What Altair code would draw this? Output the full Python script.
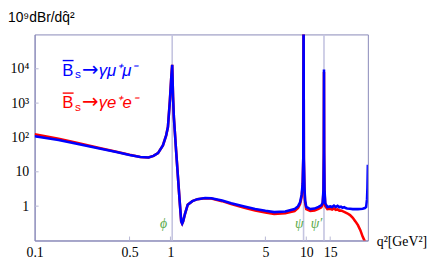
import altair as alt
import pandas as pd

# ---- data ----
mu_q2 = [0.1, 0.15, 0.2, 0.3, 0.4, 0.5, 0.6, 0.69, 0.75, 0.81, 0.88, 0.93, 0.958, 0.99, 1.013, 1.03,
         1.045, 1.06, 1.1, 1.166, 1.2, 1.22, 1.24, 1.28, 1.34, 1.45, 1.58, 1.8, 2.0, 2.4, 2.8, 3.5, 4.2,
         5.0, 5.8, 7.0, 8.2, 8.7, 9.0, 9.25, 9.4, 9.5, 9.55, 9.6, 9.7, 9.8, 10.0, 10.7, 11.5, 12.3,
         12.9, 13.2, 13.38, 13.46, 13.5, 13.54, 13.62, 13.8, 14.3, 15.0, 15.5, 16.0, 16.5, 17.0, 17.5,
         18.0, 18.5, 19.0, 19.5, 20.0, 21.0, 22.0, 23.0, 24.0, 25.0, 26.0, 27.0, 27.6, 28.0, 28.2, 28.4]
mu_val = [108, 85, 67, 48, 38, 31, 27, 26, 29, 35, 59, 115, 200, 1140, 5300, 13000,
          1500, 380, 42, 1.6, 0.36, 0.31, 0.36, 0.6, 1.1, 1.4, 1.6, 1.72, 1.7, 1.45, 1.22, 0.98, 0.83,
          0.73, 0.67, 0.7, 0.82, 1.0, 1.3, 2.2, 4.5, 25, 1000000, 25, 3.5, 1.5, 0.95, 0.82, 0.85, 0.95,
          1.05, 1.25, 3, 40, 9500, 40, 3, 1.2, 0.94, 0.98, 0.94, 1.04, 0.95, 1.02, 0.93,
          0.97, 0.9, 0.94, 0.88, 0.86, 0.84, 0.82, 0.82, 0.82, 0.83, 0.84, 0.88, 0.95, 1.6, 3.5, 16]

e_q2 = [0.1, 0.15, 0.2, 0.3, 0.4, 0.5, 0.6, 0.69, 0.75, 0.81, 0.88, 0.93, 0.958, 0.99, 1.013, 1.03,
        1.045, 1.06, 1.1, 1.166, 1.2, 1.22, 1.24, 1.28, 1.34, 1.45, 1.58, 1.8, 2.0, 2.4, 2.8, 3.5, 4.2,
        5.0, 5.8, 7.0, 8.2, 8.7, 9.0, 9.25, 9.4, 9.5, 9.55, 9.6, 9.7, 9.8, 10.0, 10.7, 11.5, 12.3,
        12.9, 13.2, 13.38, 13.46, 13.5, 13.54, 13.62, 13.8, 14.3, 15.0, 15.5, 16.0, 16.5, 17.0, 17.5,
        18.0, 19.0, 20.0, 21.0, 22.0, 23.0, 24.0, 25.0, 26.0, 26.8, 27.3, 27.7]
e_val = [125, 92, 71, 49, 38.5, 31.3, 27, 26, 29, 35, 59, 115, 200, 1140, 5300, 13000,
         1500, 380, 42, 1.6, 0.36, 0.31, 0.36, 0.6, 1.1, 1.4, 1.6, 1.7, 1.67, 1.4, 1.15, 0.9, 0.75,
         0.65, 0.59, 0.62, 0.72, 0.88, 1.15, 1.9, 4.0, 22, 1000000, 22, 3.0, 1.3, 0.82, 0.72, 0.75, 0.84,
         0.93, 1.1, 2.6, 35, 8000, 35, 2.6, 1.0, 0.82, 0.84, 0.8, 0.86, 0.78, 0.8, 0.74,
         0.75, 0.68, 0.62, 0.55, 0.46, 0.36, 0.28, 0.2, 0.13, 0.1, 0.07, 0.05]

res_q2 = [1.03, 9.55, 13.5]
res_lbl = ["ϕ", "ψ", "ψ′"]
res_lbl_q2 = [0.89, 8.87, 11.9]

x_ticks = [0.1, 0.5, 1, 5, 10, 15]
y_ticks = [1, 10, 100, 1000, 10000]

W, H = 338, 209
XDOM = [0.1, 28.4]
YDOM = [0.1, 100000]
FRAME = "#8888b8"

df = pd.concat([
    pd.DataFrame({"q2": e_q2, "v": e_val, "s": "ee"}),
    pd.DataFrame({"q2": mu_q2, "v": mu_val, "s": "mumu"}),
])

xs = alt.Scale(type="log", domain=XDOM, nice=False)
ys = alt.Scale(type="log", domain=YDOM, nice=False)

xax = alt.Axis(values=x_ticks, format="~g", ticks=False, grid=False, labelFlush=False,
               labelOverlap=False, labelFont="Liberation Serif", labelFontSize=14,
               labelColor="black", labelPadding=5, domainColor=FRAME, title=None)
yax = alt.Axis(values=y_ticks, ticks=False, grid=False, labelFlush=False, labelOverlap=False,
               labelExpr="datum.value == 1 ? '1' : datum.value == 10 ? '10' : datum.value == 100 ? '10²' : datum.value == 1000 ? '10³' : '10⁴'",
               labelFont="Liberation Serif", labelFontSize=14, labelColor="black",
               labelPadding=6, domainColor=FRAME, title=None)

vlines = alt.Chart(pd.DataFrame({"q2": res_q2})).mark_rule(
    color="#c4c4e0", strokeWidth=1.6).encode(x=alt.X("q2:Q", scale=xs, axis=xax))

xt = alt.Chart(pd.DataFrame({"q2": x_ticks[1:]})).mark_rule(color="#b8b8d4", strokeWidth=1).encode(
    x=alt.X("q2:Q", scale=xs), y=alt.value(H), y2=alt.value(H - 4))
yt = alt.Chart(pd.DataFrame({"v": y_ticks})).mark_rule(color="#b8b8d4", strokeWidth=1).encode(
    y=alt.Y("v:Q", scale=ys, axis=yax), x=alt.value(0), x2=alt.value(4))

red = alt.Chart(df[df.s == "ee"]).mark_line(color="#ff0000", strokeWidth=2.6, clip=True).encode(
    x=alt.X("q2:Q", scale=xs), y=alt.Y("v:Q", scale=ys), order="q2:Q")
blue = alt.Chart(df[df.s == "mumu"]).mark_line(color="#0000ff", strokeWidth=2.6, clip=True).encode(
    x=alt.X("q2:Q", scale=xs), y=alt.Y("v:Q", scale=ys), order="q2:Q")

lbls = alt.Chart(pd.DataFrame({"q2": res_lbl_q2, "t": res_lbl})).mark_text(
    font="Liberation Serif", fontStyle="italic", fontSize=14, color="#5aaa4a",
    baseline="middle").encode(x=alt.X("q2:Q", scale=xs), y=alt.value(192.5), text="t:N")


def legend(color, tail, base):
    B = alt.Chart(pd.DataFrame({"t": ["B"]})).mark_text(
        font="Liberation Sans", fontSize=17, color=color, align="left", baseline="alphabetic"
    ).encode(x=alt.value(28), y=alt.value(base), text="t:N")
    bar = alt.Chart(pd.DataFrame({"a": [0]})).mark_rule(color=color, strokeWidth=1.4).encode(
        x=alt.value(28.5), x2=alt.value(39.5), y=alt.value(base - 15.5))
    s = alt.Chart(pd.DataFrame({"t": ["s"]})).mark_text(
        font="Liberation Sans", fontSize=12, color=color, align="left", baseline="alphabetic"
    ).encode(x=alt.value(41), y=alt.value(base + 2.5), text="t:N")
    arr = alt.Chart(pd.DataFrame({"t": ["→"]})).mark_text(
        font="DejaVu Sans", fontSize=20, color=color, align="center", baseline="alphabetic"
    ).encode(x=alt.value(56.5), y=alt.value(base), text="t:N")
    g = alt.Chart(pd.DataFrame({"t": [tail]})).mark_text(
        font="Liberation Sans", fontStyle="italic", fontSize=17, color=color, align="left",
        baseline="alphabetic").encode(x=alt.value(65), y=alt.value(base), text="t:N")
    return [B, bar, s, arr, g]


title = alt.Chart(pd.DataFrame({"t": ["10⁹dBr/dq̂²"]})).mark_text(
    font="Liberation Sans", fontSize=14, color="black", align="left", baseline="alphabetic"
).encode(x=alt.value(-27), y=alt.value(-13), text="t:N")
xlab = alt.Chart(pd.DataFrame({"t": ["q²[GeV²]"]})).mark_text(
    font="Liberation Serif", fontSize=14, color="black", align="left", baseline="alphabetic"
).encode(x=alt.value(347), y=alt.value(215), text="t:N")

layers = [vlines, xt, yt, red, blue, lbls, title, xlab] + legend("#0000ff", "γμ⁺μ⁻", 42) + legend("#ff0000", "γe⁺e⁻", 75)

chart = alt.layer(*layers).properties(
    width=W, height=H,
    autosize=alt.AutoSizeParams(type="none"),
    padding={"left": 27, "top": 25, "right": 61, "bottom": 20},
).configure_view(stroke=FRAME, strokeWidth=1).configure_axis(domainWidth=1)

chart.save("out.html", embed_options={"renderer": "svg", "actions": False})
